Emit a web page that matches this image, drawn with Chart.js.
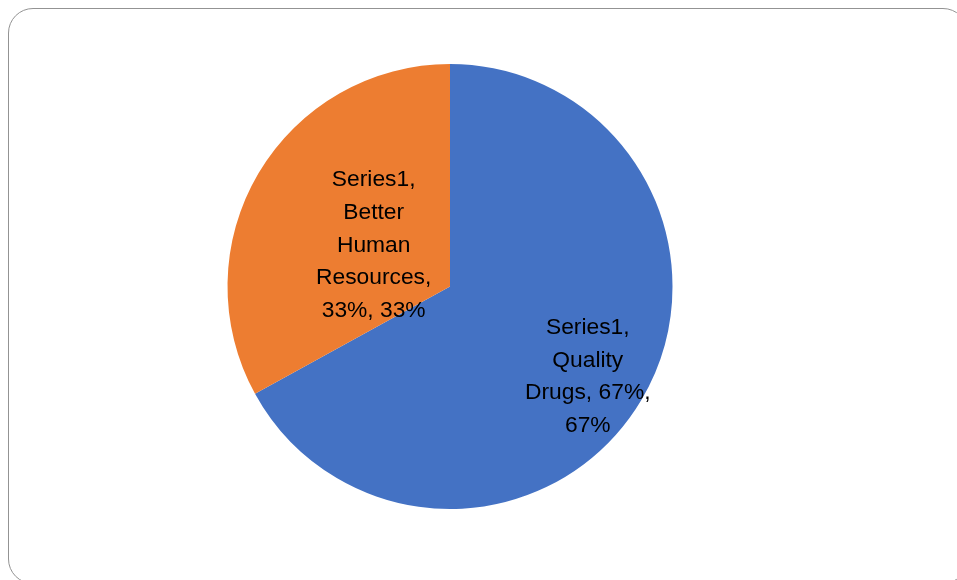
<!DOCTYPE html>
<html>
<head>
<meta charset="utf-8">
<script src="https://cdn.jsdelivr.net/npm/chart.js@4/dist/chart.umd.min.js"></script>
<style>
  html, body { margin: 0; padding: 0; background: #ffffff; overflow: hidden; }
  #wrap { position: relative; width: 957px; height: 580px; }
  #frame {
    position: absolute; left: 7.5px; top: 7.5px; width: 960px; height: 576px;
    box-sizing: border-box; border: 1.6px solid #939393; border-radius: 25px;
  }
  canvas { position: absolute; left: 0; top: 0; }
</style>
</head>
<body>
<div id="wrap">
  <div id="frame"></div>
  <canvas id="c" width="957" height="580"></canvas>
</div>
<script>
// ---- data ----
const seriesName = "Series1";
const categories = ["Quality Drugs", "Better Human Resources"];
const values = [0.67, 0.33];
// label text as wrapped in the reference
const labelLines = [
  ["Series1,", "Quality", "Drugs, 67%,", "67%"],
  ["Series1,", "Better", "Human", "Resources,", "33%, 33%"]
];
const sliceColors = ["#4472C4", "#ED7D31"];

// label placement style: radial fraction and small angular tweak (degrees)
const labelPlacement = [
  { r: 0.74, da: 2.6 },
  { r: 0.39, da: -2.2 }
];

const labelPlugin = {
  id: "sliceLabels",
  afterDatasetsDraw(chart) {
    const ctx = chart.ctx;
    const meta = chart.getDatasetMeta(0);
    ctx.save();
    ctx.font = "22.8px 'Liberation Sans', Arial, sans-serif";
    ctx.fillStyle = "#000000";
    ctx.textAlign = "center";
    ctx.textBaseline = "middle";
    const lh = 32.8;
    meta.data.forEach((arc, i) => {
      const p = arc.getProps(["x", "y", "startAngle", "endAngle", "outerRadius"], true);
      const mid = (p.startAngle + p.endAngle) / 2 + labelPlacement[i].da * Math.PI / 180;
      const rr = p.outerRadius * labelPlacement[i].r;
      const cx = p.x + Math.cos(mid) * rr;
      const cy = p.y + Math.sin(mid) * rr;
      const lines = labelLines[i];
      const y0 = cy - (lines.length - 1) * lh / 2;
      lines.forEach((t, k) => ctx.fillText(t, cx, y0 + k * lh));
    });
    ctx.restore();
  }
};

new Chart(document.getElementById("c"), {
  type: "pie",
  data: {
    labels: categories,
    datasets: [{
      label: seriesName,
      data: values,
      backgroundColor: sliceColors,
      borderWidth: 0
    }]
  },
  options: {
    responsive: false,
    animation: false,
    layout: { padding: { top: 64, bottom: 71, left: 227.5, right: 284.5 } },
    plugins: { legend: { display: false }, tooltip: { enabled: false } }
  },
  plugins: [labelPlugin]
});
</script>
</body>
</html>
